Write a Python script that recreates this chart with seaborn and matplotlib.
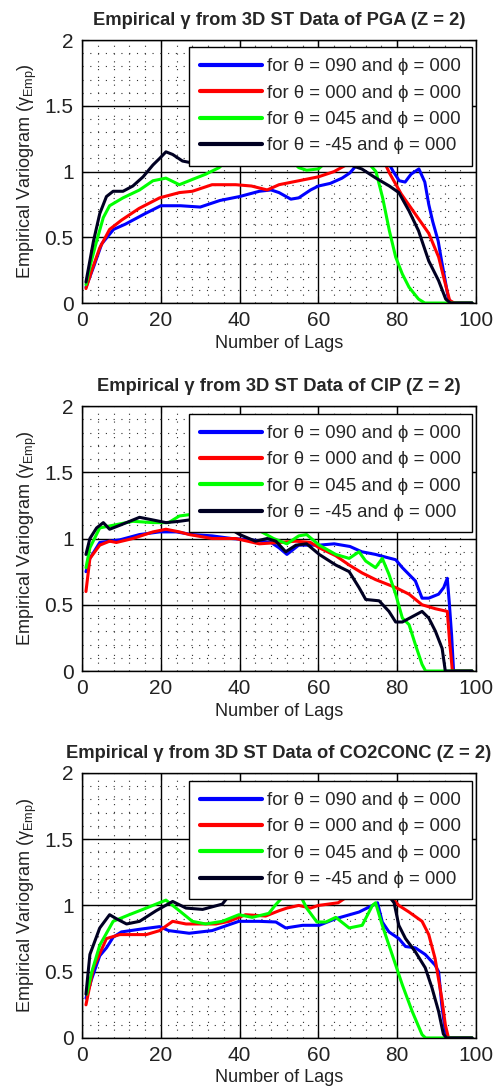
import matplotlib
matplotlib.use("Agg")
import matplotlib.pyplot as plt
import numpy as np
import pandas as pd
import seaborn as sns
from matplotlib import font_manager
from matplotlib.ticker import MultipleLocator

# ---------------------------------------------------------------- data
variables = ["PGA", "CIP", "CO2CONC"]
directions = ["090", "000", "045", "-45"]
legend_labels = [f"for θ = {d} and ϕ = 000" for d in directions]
xtick_values = [0, 20, 40, 60, 80, 100]
ytick_values = [0, 0.5, 1, 1.5, 2]
ytick_labels = ["0", "0.5", "1", "1.5", "2"]

# PGA
pga_090_lag = [1, 3, 5, 8, 11, 16, 20, 25, 30, 35, 40, 45, 48, 50, 53, 55, 58, 60, 63, 66, 68, 70, 73, 76, 79, 80.5, 82, 83.5, 85.5, 87, 88, 89, 90.4, 91.2, 92, 93, 94, 96, 99]
pga_090_val = [0.12, 0.28, 0.45, 0.56, 0.6, 0.68, 0.74, 0.74, 0.73, 0.78, 0.81, 0.85, 0.86, 0.84, 0.79, 0.8, 0.86, 0.89, 0.91, 0.95, 0.99, 1.06, 1.16, 1.16, 1.0, 0.93, 0.92, 0.98, 1.02, 0.92, 0.75, 0.62, 0.47, 0.33, 0.2, 0.03, 0.0, 0.0, 0.0]
pga_000_lag = [1, 2.5, 4.5, 7, 10, 14.5, 19.7, 24.7, 28, 33, 39, 43, 47, 50, 55, 60, 64, 67, 70, 73, 76, 78, 81, 84.5, 88, 90.5, 92, 93.3, 94.5, 99]
pga_000_val = [0.11, 0.25, 0.42, 0.56, 0.63, 0.72, 0.8, 0.84, 0.85, 0.9, 0.9, 0.89, 0.86, 0.9, 0.93, 0.96, 1.0, 1.05, 1.14, 1.16, 1.12, 0.99, 0.83, 0.68, 0.53, 0.35, 0.17, 0.02, 0.0, 0.0]
pga_045_lag = [1, 2.2, 3.7, 5.4, 7, 10.4, 14.6, 18, 21.3, 24.7, 28, 31.4, 34.8, 38, 42, 47, 52, 55, 57, 60, 63, 67, 71, 74.6, 76.3, 78, 79.6, 81.3, 83, 85.4, 87, 99]
pga_045_val = [0.14, 0.3, 0.47, 0.65, 0.74, 0.8, 0.86, 0.93, 0.95, 0.9, 0.94, 0.98, 1.03, 1.12, 1.18, 1.18, 1.12, 1.03, 1.01, 1.02, 1.1, 1.16, 1.12, 1.0, 0.8, 0.55, 0.35, 0.22, 0.12, 0.03, 0.0, 0.0]
pga_m45_lag = [1, 2.9, 4.5, 6.2, 7.9, 10.4, 12.9, 15.5, 18, 19.7, 21.3, 23, 25.5, 27.2, 30, 35, 40, 45, 50, 55, 60, 65, 69, 71, 74.6, 78, 80.4, 83, 85.4, 88, 90.5, 92.3, 93.5, 99]
pga_m45_val = [0.16, 0.47, 0.68, 0.81, 0.85, 0.85, 0.89, 0.96, 1.05, 1.1, 1.15, 1.13, 1.08, 1.07, 1.12, 1.18, 1.2, 1.2, 1.18, 1.2, 1.18, 1.12, 1.04, 1.02, 0.95, 0.89, 0.84, 0.7, 0.55, 0.32, 0.17, 0.03, 0.0, 0.0]

# CIP
cip_090_lag = [1, 2, 4.5, 7, 9.6, 14.6, 19.7, 23.9, 28, 33, 38, 43, 48, 50, 52, 55, 60.2, 64, 68, 71, 74.5, 77, 79.6, 81.3, 84.6, 86.3, 88, 90.5, 91.8, 92.7, 93.2, 93.8, 94.3, 99]
cip_090_val = [0.75, 0.85, 0.97, 0.98, 0.99, 1.03, 1.05, 1.05, 1.03, 1.02, 1.0, 0.99, 0.97, 0.93, 0.88, 0.95, 0.95, 0.96, 0.94, 0.9, 0.88, 0.86, 0.84, 0.78, 0.68, 0.55, 0.55, 0.58, 0.63, 0.7, 0.52, 0.27, 0.0, 0.0]
cip_000_lag = [1, 2, 4.5, 7, 8.7, 12.9, 18, 21.3, 24.7, 27.2, 33, 39, 45, 50, 54.3, 58, 60.2, 64.4, 67.8, 71.1, 74.5, 79.6, 83, 86.3, 89.7, 92.7, 93.3, 94, 99]
cip_000_val = [0.6, 0.85, 0.95, 0.98, 0.97, 1.0, 1.05, 1.07, 1.05, 1.03, 1.0, 1.0, 0.96, 0.97, 0.98, 0.97, 0.93, 0.87, 0.8, 0.74, 0.69, 0.63, 0.58, 0.5, 0.47, 0.45, 0.22, 0.0, 0.0]
cip_045_lag = [1, 2, 4.5, 7.9, 12.9, 18, 22, 24.7, 27.2, 30, 35, 40, 45, 48.6, 52, 55, 57, 60.2, 64.4, 67.8, 70.3, 72, 74.5, 76.2, 77.9, 79.6, 81.3, 83, 84.6, 86.3, 87.2, 99]
cip_045_val = [0.78, 0.93, 1.08, 1.1, 1.13, 1.12, 1.12, 1.17, 1.18, 1.17, 1.14, 1.1, 1.06, 1.0, 0.96, 1.02, 1.03, 0.95, 0.88, 0.85, 0.9, 0.83, 0.78, 0.85, 0.73, 0.58, 0.4, 0.35, 0.2, 0.05, 0.0, 0.0]
cip_m45_lag = [1, 2, 3.7, 5.4, 7, 9.6, 14.6, 18, 21.3, 24.7, 27.2, 30, 35, 40, 44, 47, 49.2, 51.7, 54.3, 57, 60.2, 64.4, 67.8, 70.3, 72, 75.4, 77.9, 79.6, 81.3, 83.8, 86.3, 88, 89.7, 91.4, 92.2, 99]
cip_m45_val = [0.88, 1.0, 1.08, 1.12, 1.07, 1.1, 1.16, 1.14, 1.12, 1.13, 1.14, 1.14, 1.12, 1.03, 0.98, 1.0, 0.98, 0.9, 0.95, 0.96, 0.88, 0.8, 0.75, 0.63, 0.54, 0.53, 0.45, 0.37, 0.37, 0.41, 0.45, 0.4, 0.3, 0.17, 0.0, 0.0]

# CO2CONC
co2_090_lag = [1, 2.5, 4.5, 6.2, 7.9, 10, 14.6, 19.7, 22, 27.2, 33, 39.8, 44.9, 49.2, 51.7, 56, 60.2, 64.4, 70.3, 73.7, 75, 76.2, 77.9, 80.4, 82.1, 84.6, 87.1, 89.6, 90.5, 91.3, 92.2, 93, 99]
co2_090_val = [0.3, 0.45, 0.62, 0.68, 0.76, 0.8, 0.82, 0.84, 0.81, 0.79, 0.81, 0.88, 0.88, 0.875, 0.83, 0.85, 0.85, 0.9, 0.95, 1.0, 1.02, 0.875, 0.8, 0.75, 0.69, 0.68, 0.63, 0.55, 0.5, 0.25, 0.05, 0.0, 0.0]
co2_000_lag = [1, 2.9, 6.2, 9.6, 16.3, 19.7, 23, 26.4, 30.6, 34, 37.3, 41.5, 46.6, 50, 52, 55, 58, 60, 65, 70, 75, 78, 80.4, 83, 86.3, 88, 89.6, 91.3, 92.2, 93, 99]
co2_000_val = [0.25, 0.53, 0.75, 0.78, 0.78, 0.81, 0.88, 0.86, 0.86, 0.86, 0.88, 0.93, 0.92, 0.96, 0.98, 1.0, 0.98, 1.0, 1.02, 1.12, 1.12, 1.08, 1.0, 0.95, 0.88, 0.78, 0.6, 0.3, 0.1, 0.0, 0.0]
co2_045_lag = [1.2, 2.5, 4.5, 7.9, 12, 16.3, 21.3, 24.7, 28, 31.4, 35.6, 39.8, 43.2, 47.4, 49, 52, 55, 57, 59.6, 61.9, 64.4, 67.8, 71.1, 73.7, 74.5, 76.2, 78.7, 81.3, 83.8, 86.3, 87.2, 99]
co2_045_val = [0.33, 0.5, 0.7, 0.88, 0.93, 0.98, 1.04, 0.96, 0.88, 0.86, 0.88, 0.93, 0.91, 0.94, 1.0, 1.1, 1.1, 0.98, 0.875, 0.875, 0.91, 0.83, 0.85, 1.0, 1.02, 0.85, 0.63, 0.4, 0.2, 0.025, 0.0, 0.0]
co2_m45_lag = [1, 2, 4.5, 7, 8.7, 11.3, 14.6, 18.8, 23, 26.4, 30.6, 35.6, 38, 42, 50, 60, 70, 76, 79.2, 80.4, 82.1, 84.6, 87.1, 88.8, 90.5, 91.7, 92.5, 99]
co2_m45_val = [0.33, 0.63, 0.83, 0.93, 0.9, 0.86, 0.88, 0.96, 1.03, 0.98, 0.97, 1.01, 1.1, 1.16, 1.18, 1.18, 1.18, 1.14, 1.02, 0.85, 0.75, 0.65, 0.53, 0.38, 0.2, 0.03, 0.0, 0.0]

panel_series = {
    "PGA": [(pga_090_lag, pga_090_val), (pga_000_lag, pga_000_val),
            (pga_045_lag, pga_045_val), (pga_m45_lag, pga_m45_val)],
    "CIP": [(cip_090_lag, cip_090_val), (cip_000_lag, cip_000_val),
            (cip_045_lag, cip_045_val), (cip_m45_lag, cip_m45_val)],
    "CO2CONC": [(co2_090_lag, co2_090_val), (co2_000_lag, co2_000_val),
                (co2_045_lag, co2_045_val), (co2_m45_lag, co2_m45_val)],
}

line_colors = ["#0000ff", "#ff0000", "#00ff00", "#000022"]

# ---------------------------------------------------------------- style
sns.set_style("white")
installed = {f.name for f in font_manager.fontManager.ttflist}
tick_font = "Liberation Sans Narrow" if "Liberation Sans Narrow" in installed else "Liberation Sans"
plt.rcParams["font.family"] = ["Liberation Sans", "DejaVu Sans"]
plt.rcParams["mathtext.default"] = "regular"
plt.rcParams["axes.axisbelow"] = "line"

fig = plt.figure(figsize=(4.95, 10.92), dpi=100)
fig.patch.set_facecolor("white")

axes_boxes = [
    [0.1657, 0.7225, 0.796, 0.2408],
    [0.1657, 0.3855, 0.796, 0.2427],
    [0.1657, 0.0495, 0.796, 0.2427],
]
legend_tops = [0.973, 0.97, 0.97]

for name, box, ltop in zip(variables, axes_boxes, legend_tops):
    ax = fig.add_axes(box)
    ax.set_facecolor("white")

    frames = []
    for label, (lags, vals) in zip(legend_labels, panel_series[name]):
        frames.append(pd.DataFrame({"lag": lags, "gamma": vals, "direction": label}))
    df = pd.concat(frames, ignore_index=True)

    sns.lineplot(data=df, x="lag", y="gamma", hue="direction",
                 hue_order=legend_labels, palette=line_colors,
                 sort=False, estimator=None, linewidth=2.2,
                 legend=False, ax=ax)

    ax.set_xlim(0, 100)
    ax.set_ylim(0, 2)
    ax.set_xticks(xtick_values)
    ax.set_yticks(ytick_values)
    ax.set_yticklabels(ytick_labels)
    ax.xaxis.set_minor_locator(MultipleLocator(4))
    ax.yaxis.set_minor_locator(MultipleLocator(0.1))

    ax.grid(which="major", color="black", linewidth=1.0, linestyle="-")
    ax.grid(which="minor", color="#303030", linewidth=0.8, linestyle=(0, (1, 6)))

    ax.tick_params(which="both", direction="in", top=True, right=True,
                   bottom=True, left=True, colors="black")
    ax.tick_params(which="major", length=5, width=0.8, pad=6)
    ax.tick_params(which="minor", length=0)
    for lbl in ax.get_xticklabels() + ax.get_yticklabels():
        lbl.set_fontfamily([tick_font, "DejaVu Sans"])
        lbl.set_fontsize(15)
        lbl.set_color("#222222")

    for spine in ax.spines.values():
        spine.set_visible(True)
        spine.set_color("black")
        spine.set_linewidth(1.0)

    ax.set_title(f"Empirical γ from 3D ST Data of {name} (Z = 2)",
                 fontsize=13.2, fontweight="bold", pad=11)
    ax.set_xlabel("Number of Lags", fontsize=13, color="#222222", labelpad=3)
    ax.set_ylabel(r"Empirical Variogram ($γ_{Emp}$)", fontsize=13,
                  color="#222222", labelpad=4)

    leg = ax.legend(ax.lines[:4], legend_labels, loc="upper right",
                    bbox_to_anchor=(0.99, ltop), borderaxespad=0,
                    fontsize=13.4, handlelength=3.3, handletextpad=0.28,
                    labelspacing=0.5, borderpad=0.6, frameon=True,
                    fancybox=False, framealpha=1.0, edgecolor="black")
    leg.get_frame().set_linewidth(1.0)
    for h in leg.get_lines():
        h.set_linewidth(3.0)
    leg.set_zorder(10)

fig.savefig("out.png", dpi=100, facecolor="white")
